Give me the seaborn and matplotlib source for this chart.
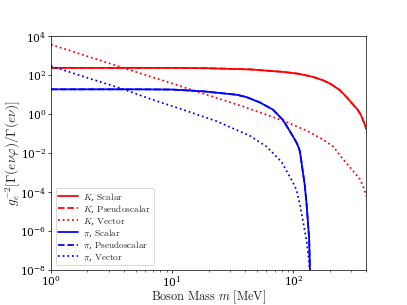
import pandas as pd
import matplotlib
matplotlib.use("Agg")
import matplotlib.pyplot as plt
import seaborn as sns

# boson mass [MeV] and normalised rate
k_scalar_m = [1, 10, 20, 44, 82, 110, 145, 175, 200, 240, 277, 310, 335, 360, 375, 390, 400]
k_scalar_y = [2.4e2, 2.4e2, 2.3e2, 2.0e2, 1.5e2, 1.2e2, 8.3e1, 5.6e1, 3.8e1, 1.8e1, 7.2,
              3.2, 1.9, 0.95, 0.51, 0.28, 0.17]

k_pseudo_m = list(k_scalar_m)
k_pseudo_y = list(k_scalar_y)

k_vector_m = [1, 2, 5, 10, 20, 40, 85, 130, 176, 213, 258, 300, 355, 380, 400]
k_vector_y = [3.8e3, 9.5e2, 1.5e2, 38, 9.3, 2.3, 0.43, 0.14, 0.049, 0.022, 4.7e-3, 1.6e-3,
              4.5e-4, 1.7e-4, 6e-5]

pi_scalar_m = [1, 5, 10, 18, 34, 41, 53, 68, 82, 92, 103, 108, 113, 116, 120, 124, 128.5,
               131, 135, 137, 138]
pi_scalar_y = [19, 19, 18.5, 15, 10, 7.6, 4.0, 1.7, 0.51, 0.16, 0.049, 2.8e-2, 1.3e-2,
               4.5e-3, 1.0e-3, 2.5e-4, 2.5e-5, 5e-6, 4e-7, 1e-8, 1e-9]

pi_pseudo_m = list(pi_scalar_m)
pi_pseudo_y = list(pi_scalar_y)

pi_vector_m = [1, 2, 4, 6.5, 12.3, 23, 43.6, 60, 80, 99, 106, 113, 120, 128.5, 135, 137, 138]
pi_vector_y = [3.0e2, 74, 19, 6.3, 1.7, 0.45, 0.079, 0.022, 3.5e-3, 3.2e-4, 1.3e-4, 2.5e-5,
               3.2e-6, 3.2e-7, 2.5e-8, 3e-9, 1e-9]

y_ticks = [1e-8, 1e-6, 1e-4, 1e-2, 1e0, 1e2, 1e4]
x_ticks = [1, 10, 100]

sns.set_style("ticks")
plt.rcParams["mathtext.fontset"] = "cm"
plt.rcParams["font.family"] = ["DejaVu Serif"]

curves = [
    (k_scalar_m, k_scalar_y, "red", "-", r"$K$, $\mathrm{Scalar}$"),
    (k_pseudo_m, k_pseudo_y, "red", "--", r"$K$, $\mathrm{Pseudoscalar}$"),
    (k_vector_m, k_vector_y, "red", ":", r"$K$, $\mathrm{Vector}$"),
    (pi_scalar_m, pi_scalar_y, "blue", "-", r"$\pi$, $\mathrm{Scalar}$"),
    (pi_pseudo_m, pi_pseudo_y, "blue", "--", r"$\pi$, $\mathrm{Pseudoscalar}$"),
    (pi_vector_m, pi_vector_y, "blue", ":", r"$\pi$, $\mathrm{Vector}$"),
]

fig, ax = plt.subplots(figsize=(6.4, 4.8), dpi=63.6)
fig.subplots_adjust(bottom=0.115)
for m, y, c, ls, lab in curves:
    df = pd.DataFrame({"m": m, "rate": y})
    sns.lineplot(data=df, x="m", y="rate", color=c, linestyle=ls, lw=2,
                 label=lab, estimator=None, sort=True, ax=ax)

ax.set_xscale("log")
ax.set_yscale("log")
ax.set_yticks(y_ticks)
ax.set_xticks(x_ticks)
ax.set_xlim(1, 400)
ax.set_ylim(1e-8, 1e4)
ax.set_xlabel(r"$\mathrm{Boson\ Mass}\ m\ [\mathrm{MeV}]$", fontsize=14, labelpad=-1)
ax.set_ylabel(r"$g_e^{-2}[\Gamma(e\nu\varphi)/\Gamma(e\nu)]$", fontsize=15, labelpad=-2)
for s in ax.spines.values():
    s.set_color("black")
ax.tick_params(which="major", length=3.5, pad=1.5, colors="black", labelsize=12)
ax.tick_params(which="minor", length=2, colors="black")
ax.legend(loc="lower left", fontsize=10.5, labelspacing=0.08, handlelength=2.1,
          borderpad=0.3, handletextpad=0.6)

fig.savefig("out.png", dpi=63.6)
